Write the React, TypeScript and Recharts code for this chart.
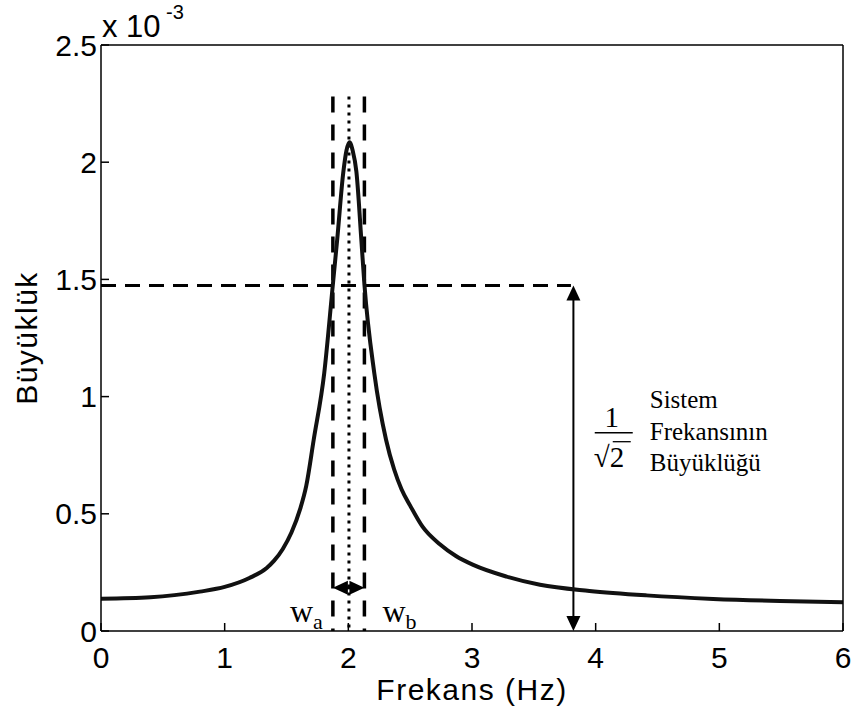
import React from 'react';
import { LineChart, Line, XAxis, YAxis, ReferenceLine, ReferenceDot } from 'recharts';

// frequency (Hz) and magnitude (x 10^-3)
const freq = [0, 0.4, 0.8, 1.0, 1.2, 1.34, 1.4, 1.47, 1.54, 1.61, 1.66, 1.72, 1.805, 1.875, 1.91, 1.96, 1.985, 2.01, 2.035, 2.065, 2.105, 2.13, 2.21, 2.305, 2.37, 2.43, 2.5, 2.6, 2.74, 2.87, 3.01, 3.28, 3.55, 3.95, 4.41, 4.95, 5.49, 6.0];
const magnitude = [0.138, 0.144, 0.168, 0.188, 0.226, 0.269, 0.3, 0.35, 0.42, 0.52, 0.62, 0.816, 1.1, 1.479, 1.67, 1.96, 2.05, 2.085, 2.05, 1.96, 1.67, 1.479, 1.1, 0.816, 0.69, 0.605, 0.535, 0.445, 0.37, 0.32, 0.282, 0.232, 0.197, 0.171, 0.152, 0.137, 0.128, 0.123];

const xTicks = [0, 1, 2, 3, 4, 5, 6];
const yTicks = [0, 0.5, 1, 1.5, 2, 2.5];

// annotation positions in data units
const halfPower = 1.474;
const halfPowerEnd = 3.8;
const wA = 1.875;
const wB = 2.13;
const wN = 2.005;
const guideTop = 2.28;
const arrowX = 3.82;
const bandArrowY = 0.184;
const labelY = 0.04;
const textAnchor = { x: 4.13, y: 0.846 };

const data = freq.map((f, i) => ({ f, m: magnitude[i] }));

const sans = 'Liberation Sans, Arial, Helvetica, sans-serif';
const serif = 'Liberation Serif, Times New Roman, serif';

const tickStyle = { fontSize: 30, fill: '#000', fontFamily: sans };

const arrowHead = (tx: number, ty: number, dx: number, dy: number, len: number, half: number) => {
  // tip at (tx,ty), pointing along (dx,dy)
  const bx = tx - dx * len;
  const by = ty - dy * len;
  const px = -dy * half;
  const py = dx * half;
  return `${tx},${ty} ${bx + px},${by + py} ${bx - px},${by - py}`;
};

const DoubleArrow = (width: number, len: number, half: number) => (props: any) => {
  const { x1, y1, x2, y2 } = props;
  const d = Math.hypot(x2 - x1, y2 - y1) || 1;
  const ux = (x2 - x1) / d;
  const uy = (y2 - y1) / d;
  return (
    <g>
      <line x1={x1 + ux * len * 0.8} y1={y1 + uy * len * 0.8} x2={x2 - ux * len * 0.8} y2={y2 - uy * len * 0.8} stroke="#000" strokeWidth={width} />
      <polygon points={arrowHead(x1, y1, -ux, -uy, len, half)} fill="#000" />
      <polygon points={arrowHead(x2, y2, ux, uy, len, half)} fill="#000" />
    </g>
  );
};

const NoteText = (props: any) => {
  const { cx, cy } = props;
  return (
    <g fontFamily={serif} fill="#000">
      <text x={cx} y={cy - 6} fontSize={29} textAnchor="middle">1</text>
      <line x1={cx - 17} y1={cy} x2={cx + 21} y2={cy} stroke="#000" strokeWidth={1.5} />
      <text x={cx - 18} y={cy + 34} fontSize={29}>√2</text>
      <line x1={cx + 1} y1={cy + 9} x2={cx + 19} y2={cy + 9} stroke="#000" strokeWidth={1.3} />
      <text x={cx + 38} y={cy - 25} fontSize={25}>Sistem</text>
      <text x={cx + 38} y={cy + 7} fontSize={25}>Frekansının</text>
      <text x={cx + 38} y={cy + 38} fontSize={25}>Büyüklüğü</text>
    </g>
  );
};

const WLabel = (sub: string, dx: number) => (props: any) => {
  const { cx, cy } = props;
  return (
    <text x={cx + dx} y={cy} fontFamily={serif} fill="#000">
      <tspan fontSize={32}>w</tspan>
      <tspan fontSize={22} dy={7}>{sub}</tspan>
    </text>
  );
};

const YTitle = (props: any) => {
  const { viewBox } = props;
  const x = viewBox.x - 4;
  const y = viewBox.y + viewBox.height / 2;
  return (
    <g fontFamily={sans} fill="#000">
      <text x={x} y={y} fontSize={30} letterSpacing={1.5} textAnchor="middle" transform={`rotate(-90 ${x} ${y})`}>Büyüklük</text>
      <text x={viewBox.x + viewBox.width + 1} y={viewBox.y - 8} fontSize={31}>x 10</text>
      <text x={viewBox.x + viewBox.width + 65} y={viewBox.y - 26} fontSize={20}>-3</text>
    </g>
  );
};

const XTitle = (props: any) => {
  const { viewBox } = props;
  return (
    <text x={viewBox.x + viewBox.width / 2} y={viewBox.y + 69} fontSize={30} letterSpacing={1.5} textAnchor="middle" fontFamily={sans} fill="#000">
      Frekans (Hz)
    </text>
  );
};

export default function App() {
  return (
    <div style={{ position: 'absolute', left: 0, top: 0, background: '#fff' }}>
      <LineChart width={854} height={713} data={data} margin={{ top: 44, right: 10, left: 41, bottom: 32 }}>
        <XAxis
          type="number"
          dataKey="f"
          domain={[0, 6]}
          ticks={xTicks}
          height={50}
          tickSize={-8}
          tickMargin={24}
          tick={tickStyle}
          stroke="#000"
          strokeWidth={1.5}
          label={<XTitle />}
        />
        <XAxis xAxisId="top" orientation="top" type="number" domain={[0, 6]} ticks={xTicks} height={1} tickSize={-8} tick={false} stroke="#000" strokeWidth={1.5} />
        <YAxis
          type="number"
          domain={[0, 2.5]}
          ticks={yTicks}
          width={60}
          tickSize={-8}
          tickMargin={12}
          tick={tickStyle}
          tickFormatter={(v: number) => String(v)}
          stroke="#000"
          strokeWidth={1.5}
          label={<YTitle />}
        />
        <YAxis yAxisId="right" orientation="right" type="number" domain={[0, 2.5]} ticks={yTicks} width={1} tickSize={-8} tick={false} stroke="#000" strokeWidth={1.5} />

        <ReferenceLine segment={[{ x: 0, y: halfPower }, { x: halfPowerEnd, y: halfPower }]} stroke="#000" strokeWidth={3} strokeDasharray="15 9" />
        <ReferenceLine segment={[{ x: wA, y: guideTop }, { x: wA, y: 0 }]} stroke="#000" strokeWidth={3.5} strokeDasharray="16 12" />
        <ReferenceLine segment={[{ x: wB, y: guideTop }, { x: wB, y: 0 }]} stroke="#000" strokeWidth={3.5} strokeDasharray="16 12" />
        <ReferenceLine segment={[{ x: wN, y: guideTop }, { x: wN, y: 0 }]} stroke="#000" strokeWidth={3} strokeDasharray="3 5" />
        <ReferenceLine segment={[{ x: arrowX, y: halfPower }, { x: arrowX, y: 0 }]} shape={DoubleArrow(2, 15, 7)} />
        <ReferenceLine segment={[{ x: wA, y: bandArrowY }, { x: wB, y: bandArrowY }]} shape={DoubleArrow(3, 15, 7)} />

        <Line type="monotone" dataKey="m" stroke="#111" strokeWidth={4} dot={false} isAnimationActive={false} />

        <ReferenceDot x={textAnchor.x} y={textAnchor.y} r={0} shape={NoteText} />
        <ReferenceDot x={wA} y={labelY} r={0} shape={WLabel('a', -43)} />
        <ReferenceDot x={wB} y={labelY} r={0} shape={WLabel('b', 18)} />
      </LineChart>
    </div>
  );
}
